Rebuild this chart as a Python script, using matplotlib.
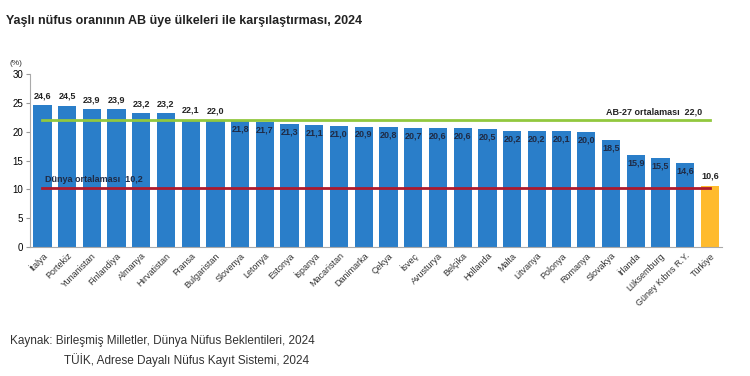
import matplotlib
matplotlib.use("Agg")
import matplotlib.pyplot as plt
import numpy as np

plt.rcParams['font.family'] = ['Liberation Sans', 'DejaVu Sans']

countries = ['İtalya', 'Portekiz', 'Yunanistan', 'Finlandiya', 'Almanya', 'Hırvatistan',
             'Fransa', 'Bulgaristan', 'Slovenya', 'Letonya', 'Estonya', 'İspanya',
             'Macaristan', 'Danimarka', 'Çekya', 'İsveç', 'Avusturya', 'Belçika',
             'Hollanda', 'Malta', 'Litvanya', 'Polonya', 'Romanya', 'Slovakya',
             'İrlanda', 'Lüksemburg', 'Güney Kıbrıs R.Y.', 'Türkiye']
values = [24.6, 24.5, 23.9, 23.9, 23.2, 23.2, 22.1, 22.0, 21.8, 21.7, 21.3, 21.1,
          21.0, 20.9, 20.8, 20.7, 20.6, 20.6, 20.5, 20.2, 20.2, 20.1, 20.0, 18.5,
          15.9, 15.5, 14.6, 10.6]
eu_avg = 22.0
world_avg = 10.2

fig = plt.figure(figsize=(7.5, 3.76), dpi=100)
ax = fig.add_axes([0.04, 0.343, 0.923, 0.46])

x = np.arange(len(countries))
colors = ['#2A7EC9'] * (len(countries) - 1) + ['#FFBB2E']
ax.bar(x, values, width=0.74, color=colors, zorder=2)

# averages
ax.plot([x[0], x[-1]], [eu_avg, eu_avg], color='#92C83E', lw=2, zorder=3)
ax.plot([x[0], x[-1]], [world_avg, world_avg], color='#AE1A2C', lw=2, zorder=3)
ax.text(x[-1] - 0.3, eu_avg + 0.7, 'AB-27 ortalaması  ' + f'{eu_avg:.1f}'.replace('.', ','),
        ha='right', va='bottom', fontsize=6.5, fontweight='bold', color='#222222')
ax.text(x[0] + 0.1, world_avg + 0.7, 'Dünya ortalaması  ' + f'{world_avg:.1f}'.replace('.', ','),
        ha='left', va='bottom', fontsize=6.5, fontweight='bold', color='#1F2A44')

# value labels
for i, v in enumerate(values):
    lbl = f'{v:.1f}'.replace('.', ',')
    if v >= eu_avg or i == len(values) - 1:
        ax.text(i, v + 0.9, lbl, ha='center', va='bottom', fontsize=6.5,
                fontweight='bold', color='#222222')
    else:
        ax.text(i, v - 0.6, lbl, ha='center', va='top', fontsize=6.5,
                fontweight='bold', color='#1F2A44')

ax.set_xlim(-0.5, len(countries) - 0.5)
ax.set_ylim(0, 30)
ax.set_yticks(range(0, 31, 5))
ax.tick_params(axis='y', labelsize=7, length=3, color='#999999', pad=2)
ax.set_xticks(x)
ax.set_xticklabels(countries, rotation=45, ha='right', rotation_mode='anchor',
                   fontsize=6.5, color='#333333')
ax.tick_params(axis='x', length=0, pad=3)
for s in ['top', 'right']:
    ax.spines[s].set_visible(False)
for s in ['left', 'bottom']:
    ax.spines[s].set_color('#AAAAAA')
    ax.spines[s].set_linewidth(0.8)

ax.text(-0.02, 1.05, '(%)', transform=ax.transAxes, fontsize=6, ha='center',
        color='#333333')

fig.text(0.008, 0.935, 'Yaşlı nüfus oranının AB üye ülkeleri ile karşılaştırması, 2024',
         fontsize=9, fontweight='bold', color='#222222')
fig.text(0.013, 0.085, 'Kaynak: Birleşmiş Milletler, Dünya Nüfus Beklentileri, 2024',
         fontsize=8.5, color='#333333')
fig.text(0.085, 0.033, 'TÜİK, Adrese Dayalı Nüfus Kayıt Sistemi, 2024',
         fontsize=8.5, color='#333333')

fig.savefig('out.png', dpi=100)
